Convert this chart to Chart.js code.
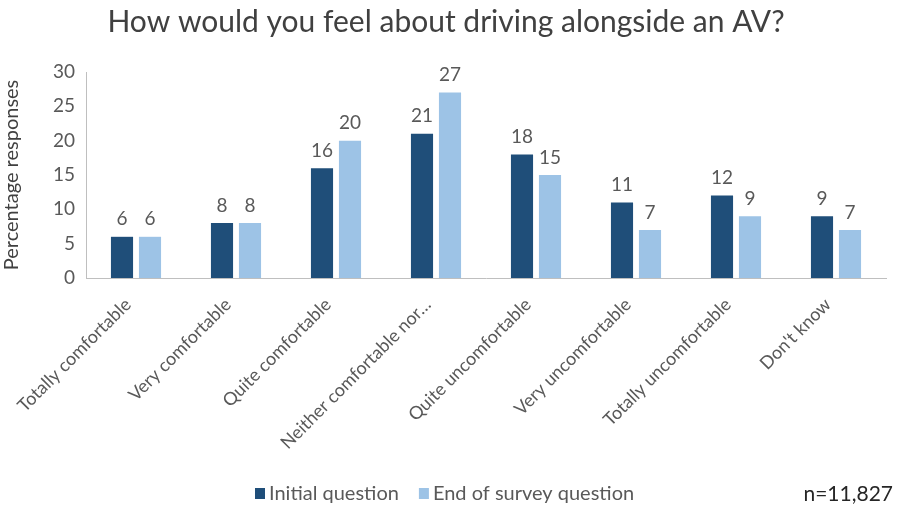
<!DOCTYPE html>
<html>
<head>
<meta charset="utf-8">
<script src="https://cdn.jsdelivr.net/npm/chart.js@4/dist/chart.umd.min.js"></script>
<style>
  html, body { margin: 0; padding: 0; background: #fff; }
  #wrap { width: 897px; height: 508px; position: relative; }
</style>
</head>
<body>
<div id="wrap"><canvas id="avChart" width="897" height="508"></canvas></div>
<script>
// Survey answers, in percent
const categories = [
  'Totally comfortable', 'Very comfortable', 'Quite comfortable',
  'Neither comfortable nor\u2026', 'Quite uncomfortable', 'Very uncomfortable',
  'Totally uncomfortable', "Don't know"
];
const initialQuestion = [6, 8, 16, 21, 18, 11, 12, 9];
const endOfSurvey = [6, 8, 20, 27, 15, 7, 9, 7];
const yTicks = [0, 5, 10, 15, 20, 25, 30];
const seriesNames = ['Initial question', 'End of survey question'];
const sampleNote = 'n=11,827';

const DARK = '#1f4e79';
const LIGHT = '#9dc3e6';
const TEXT = '#595959';
const FONT = 'Lato, "Open Sans", sans-serif';

// value labels above each bar
const barLabels = {
  id: 'barLabels',
  afterDatasetsDraw(chart) {
    const ctx = chart.ctx;
    ctx.save();
    ctx.font = '19px ' + FONT;
    ctx.fillStyle = TEXT;
    ctx.textAlign = 'center';
    ctx.textBaseline = 'bottom';
    chart.data.datasets.forEach((ds, i) => {
      chart.getDatasetMeta(i).data.forEach((bar, j) => {
        ctx.fillText(ds.data[j], bar.x, bar.y - 8);
      });
    });
    ctx.restore();
  }
};

// title, legend and sample size
const decorations = {
  id: 'decorations',
  afterDraw(chart) {
    const ctx = chart.ctx;
    ctx.save();
    ctx.fillStyle = '#404040';
    ctx.font = '30px ' + FONT;
    ctx.textAlign = 'center';
    ctx.textBaseline = 'middle';
    ctx.fillText('How would you feel about driving alongside an AV?', 446, 22);

    ctx.font = '20px ' + FONT;
    ctx.textAlign = 'left';
    let x = 255;
    const y = 493;
    [DARK, LIGHT].forEach((c, i) => {
      ctx.fillStyle = c;
      ctx.fillRect(x, y - 5, 10, 11);
      ctx.fillStyle = TEXT;
      ctx.fillText(seriesNames[i], x + 14, y + 1);
      x += 14 + ctx.measureText(seriesNames[i]).width + 20;
    });

    ctx.fillStyle = '#262626';
    ctx.font = '21px ' + FONT;
    ctx.textAlign = 'right';
    ctx.fillText(sampleNote, 893, y + 1);
    ctx.restore();
  }
};

const ctx = document.getElementById('avChart').getContext('2d');
new Chart(ctx, {
  type: 'bar',
  data: {
    labels: categories,
    datasets: [
      { label: seriesNames[0], data: initialQuestion, backgroundColor: DARK },
      { label: seriesNames[1], data: endOfSurvey, backgroundColor: LIGHT }
    ]
  },
  options: {
    responsive: false,
    animation: false,
    categoryPercentage: 0.56,
    barPercentage: 0.79,
    layout: { padding: { top: 72, right: 11, left: 0, bottom: 0 } },
    plugins: {
      legend: { display: false },
      tooltip: { enabled: false }
    },
    scales: {
      x: {
        grid: { display: false, drawTicks: false },
        border: { color: '#bfbfbf', width: 1 },
        ticks: {
          color: TEXT,
          font: { family: FONT, size: 18 },
          minRotation: 45,
          maxRotation: 45,
          padding: 16,
          labelOffset: -8,
          autoSkip: false
        },
        afterFit(scale) { scale.height = 230; }
      },
      y: {
        min: 0,
        max: 30,
        afterBuildTicks(scale) { scale.ticks = yTicks.map(v => ({ value: v })); },
        grid: { display: false, drawOnChartArea: false, drawTicks: true, tickLength: 5, color: '#bfbfbf' },
        border: { color: '#bfbfbf', width: 1 },
        ticks: {
          color: TEXT,
          font: { family: FONT, size: 19 },
          padding: 6
        },
        title: {
          display: true,
          text: 'Percentage responses',
          color: '#404040',
          font: { family: FONT, size: 20 },
          padding: { top: 0, bottom: 2 }
        },
        afterFit(scale) { scale.width = 86; }
      }
    }
  },
  plugins: [barLabels, decorations]
});
</script>
</body>
</html>
